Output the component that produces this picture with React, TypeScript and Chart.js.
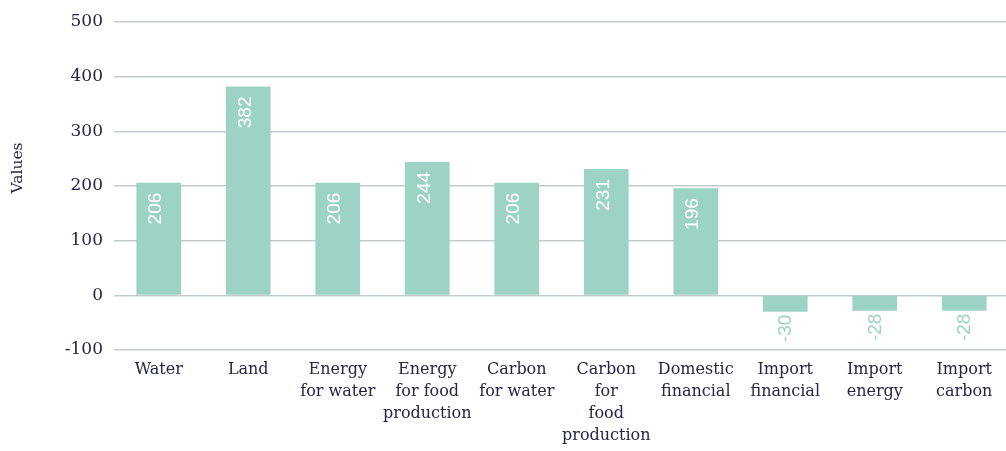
import React, { useEffect, useRef } from "react";
import { Chart, registerables } from "chart.js";

Chart.register(...registerables);

const categories: (string | string[])[] = [
  "Water",
  "Land",
  ["Energy", "for water"],
  ["Energy", "for food", "production"],
  ["Carbon", "for water"],
  ["Carbon", "for", "food", "production"],
  ["Domestic", "financial"],
  ["Import", "financial"],
  ["Import", "energy"],
  ["Import", "carbon"],
];
const values: number[] = [206, 382, 206, 244, 206, 231, 196, -30, -28, -28];
const yTicks: number[] = [-100, 0, 100, 200, 300, 400, 500];
const yTitle = "Values";

const BAR = "#9dd3c4";
const TEXT = "#26264a";
const GRID = "#c2cccc";

const labelPlugin = {
  id: "valueLabels",
  afterDatasetsDraw(chart: any) {
    const ctx = chart.ctx;
    const meta = chart.getDatasetMeta(0);
    ctx.save();
    ctx.font = "19px 'Liberation Sans', Arial, sans-serif";
    ctx.textBaseline = "middle";
    ctx.textAlign = "right";
    meta.data.forEach((bar: any, i: number) => {
      const v = values[i];
      const props = bar.getProps(["x", "y", "base"], true);
      ctx.save();
      if (v >= 0) {
        ctx.fillStyle = "#ffffff";
        ctx.translate(props.x - 2.5, props.y + 10);
      } else {
        ctx.fillStyle = BAR;
        ctx.translate(props.x + 1, props.y + 3);
      }
      ctx.rotate(-Math.PI / 2);
      ctx.fillText(String(v), 0, 0);
      ctx.restore();
    });
    // y axis title
    ctx.save();
    ctx.fillStyle = TEXT;
    ctx.font = "15.5px 'DejaVu Serif', serif";
    ctx.textAlign = "center";
    ctx.textBaseline = "middle";
    ctx.translate(18, 168);
    ctx.rotate(-Math.PI / 2);
    ctx.fillText(yTitle, 0, 0);
    ctx.restore();
    ctx.restore();
  },
};

export default function App() {
  const ref = useRef<HTMLCanvasElement | null>(null);
  useEffect(() => {
    document.body.style.margin = "0";
    document.body.style.overflow = "hidden";
    const canvas = ref.current!;
    const chart = new Chart(canvas, {
      type: "bar",
      data: {
        labels: categories,
        datasets: [
          {
            data: values,
            backgroundColor: BAR,
            borderWidth: 0,
            barPercentage: 0.5,
            categoryPercentage: 1,
          },
        ],
      },
      options: {
        responsive: false,
        animation: false,
        layout: { padding: { top: 22, right: 0, left: 0, bottom: 0 } },
        plugins: {
          legend: { display: false },
          tooltip: { enabled: false },
        },
        scales: {
          x: {
            grid: { display: false, drawTicks: false },
            border: { display: false },
            ticks: {
              color: TEXT,
              font: { family: "'DejaVu Serif', serif", size: 16, lineHeight: 1.38 },
              padding: 9,
              maxRotation: 0,
              autoSkip: false,
            },
            afterFit(scale: any) {
              scale.height = 101;
            },
          },
          y: {
            min: -100,
            max: 500,
            afterBuildTicks(scale: any) {
              scale.ticks = yTicks.map((v) => ({ value: v }));
            },
            grid: { color: GRID, lineWidth: 1.4, drawTicks: false },
            border: { display: false },
            ticks: {
              color: TEXT,
              font: { family: "'DejaVu Serif', serif", size: 17 },
              padding: 11,
            },
            afterFit(scale: any) {
              scale.width = 114;
            },
          },
        },
      },
      plugins: [labelPlugin],
    });
    return () => chart.destroy();
  }, []);
  return (
    <div style={{ width: 1006, height: 451, overflow: "hidden", position: "relative" }}>
      <canvas ref={ref} width={1009} height={451} style={{ display: "block" }} />
    </div>
  );
}
